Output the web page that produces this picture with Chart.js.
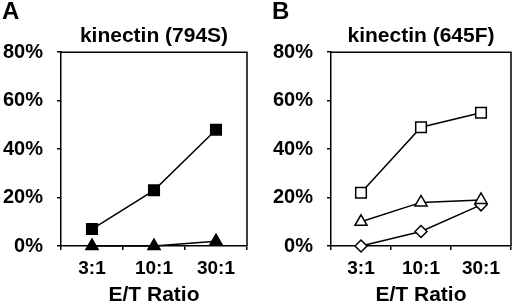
<!DOCTYPE html>
<html>
<head>
<meta charset="utf-8">
<script src="https://cdn.jsdelivr.net/npm/chart.js@4/dist/chart.umd.min.js"></script>
<style>
    body { margin: 0; background: #fff; }
    #wrap { position: relative; width: 520px; height: 308px; }
    .panel { position: absolute; top: 0; width: 260px; height: 308px; }
</style>
</head>
<body>
<div id="wrap">
    <div class="panel" style="left:0"><canvas id="chartA" width="260" height="308"></canvas></div>
    <div class="panel" style="left:260px"><canvas id="chartB" width="260" height="308"></canvas></div>
</div>
<script>
"use strict";

// E/T ratios on the x axis
var ratioLabels = ["3:1", "10:1", "30:1"];

// panel A, kinectin (794S)
var a794sSquare = [7, 23, 48];
var a794sTriangle = [0, 0, 2];

// panel B, kinectin (645F)
var b645fSquare = [22, 49, 55];
var b645fTriangle = [10, 18, 19];
var b645fDiamond = [0, 6, 17];

var FONT = "'Liberation Sans', Arial, sans-serif";

// top + right edge of the plot box
var framePlugin = {
    id: "frame",
    beforeDatasetsDraw: function(chart) {
        var a = chart.chartArea;
        var ctx = chart.ctx;
        ctx.save();
        ctx.strokeStyle = "#000";
        ctx.lineWidth = 1.5;
        ctx.beginPath();
        ctx.moveTo(a.left, a.top);
        ctx.lineTo(a.right, a.top);
        ctx.lineTo(a.right, a.bottom);
        ctx.stroke();
        ctx.restore();
    }
};

// the big panel letter in the corner
var letterPlugin = {
    id: "panelLetter",
    afterDraw: function(chart, args, opts) {
        var ctx = chart.ctx;
        ctx.save();
        ctx.fillStyle = "#000";
        ctx.font = "bold 24px " + FONT;
        ctx.textBaseline = "top";
        ctx.fillText(opts.text, opts.x, 0);
        ctx.restore();
    }
};

function series(values, style, fill, radius) {
    return {
        data: values,
        borderColor: "#000",
        borderWidth: 1.5,
        tension: 0,
        clip: false,
        pointStyle: style,
        pointRadius: radius,
        pointBackgroundColor: fill,
        pointBorderColor: "#000",
        pointBorderWidth: 1.5
    };
}

function createChart(id, title, letter, letterX, axisWidth, padRight, datasets) {
    return new Chart(document.getElementById(id), {
        type: "line",
        data: { labels: ratioLabels, datasets: datasets },
        plugins: [framePlugin, letterPlugin],
        options: {
            responsive: false,
            animation: false,
            events: [],
            layout: { padding: { top: 24, right: padRight, left: 0, bottom: 0 } },
            plugins: {
                legend: { display: false },
                tooltip: { enabled: false },
                title: {
                    display: true,
                    text: title,
                    fullSize: false,
                    color: "#000",
                    font: { family: FONT, size: 21, weight: "bold" },
                    padding: { top: 0, bottom: 3 }
                },
                panelLetter: { text: letter, x: letterX }
            },
            scales: {
                x: {
                    offset: true,
                    grid: { offset: true, drawOnChartArea: false, tickLength: 4, color: "#000", lineWidth: 1.5 },
                    border: { color: "#000", width: 1.5 },
                    ticks: { color: "#000", padding: 7, maxRotation: 0, font: { family: FONT, size: 19, weight: "bold" } },
                    title: {
                        display: true,
                        text: "E/T Ratio",
                        color: "#000",
                        font: { family: FONT, size: 21, weight: "bold" },
                        padding: { top: 5, bottom: 0 }
                    },
                    afterFit: function(scale) { scale.height = 62; }
                },
                y: {
                    min: 0,
                    max: 80,
                    grid: { drawOnChartArea: false, tickLength: 4, color: "#000", lineWidth: 1.5 },
                    border: { color: "#000", width: 1.5 },
                    ticks: {
                        stepSize: 20,
                        color: "#000",
                        padding: 14,
                        font: { family: FONT, size: 20, weight: "bold" },
                        callback: function(v) { return v + "%"; }
                    },
                    afterFit: function(scale) { scale.width = axisWidth; }
                }
            }
        }
    });
}

createChart("chartA", "kinectin (794S)", "A", 2, 61, 13, [
    series(a794sSquare, "rect", "#000", 7.5),
    series(a794sTriangle, "triangle", "#000", 7)
]);

createChart("chartB", "kinectin (645F)", "B", 12, 71, 3, [
    series(b645fSquare, "rect", "#fff", 7.5),
    series(b645fTriangle, "triangle", "#fff", 7),
    series(b645fDiamond, "rectRot", "#fff", 6)
]);
</script>
</body>
</html>
